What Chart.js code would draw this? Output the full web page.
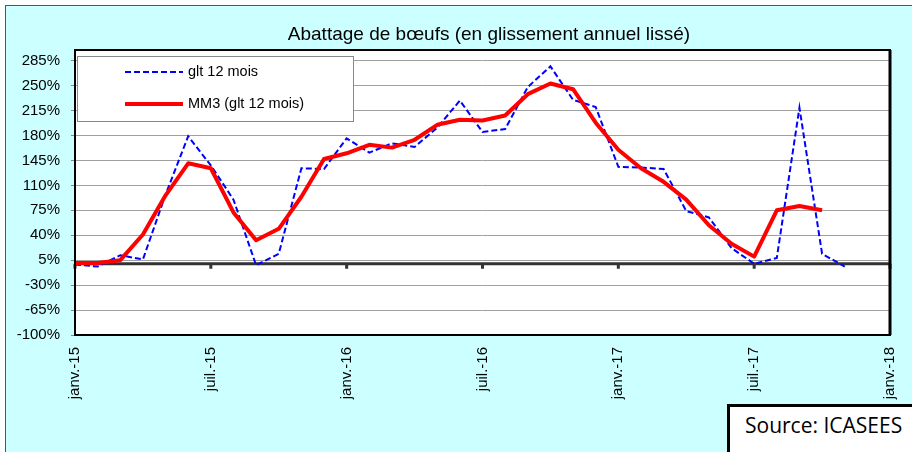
<!DOCTYPE html>
<html lang="fr">
<head>
<meta charset="utf-8">
<title>Abattage de bœufs</title>
<script src="https://cdn.jsdelivr.net/npm/chart.js@4.4.1/dist/chart.umd.min.js"></script>
<style>
  html, body { margin: 0; padding: 0; background: #fff; }
  #wrap { position: relative; width: 912px; height: 452px; overflow: hidden; }
  #bg { position: absolute; left: 5px; top: 5px; width: 920px; height: 460px; background: #ccffff;
        border-top: 1px solid #555; border-left: 1px solid #555; }
  #chart { position: absolute; left: 0; top: 0; }
  #source { position: absolute; left: 727px; top: 404px; width: 200px; height: 60px; box-sizing: border-box;
            background: #fff; border: 3px solid #000; padding: 4px 0 0 15px;
            font: 21px 'Open Sans', sans-serif; line-height: 28px; color: #000; }
</style>
</head>
<body>
<div id="wrap">
  <div id="bg"></div>
  <canvas id="chart" width="912" height="452"></canvas>
  <div id="source">Source: ICASEES</div>
</div>
<script>
// Abattage de bœufs : glissement annuel (janv.-15 -> nov.-17), mensuel
const chartTitle = 'Abattage de bœufs (en glissement annuel lissé)';
const seriesNames = ['glt 12 mois', 'MM3 (glt 12 mois)'];
const xTickLabels = ['janv.-15', 'juil.-15', 'janv.-16', 'juil.-16', 'janv.-17', 'juil.-17', 'janv.-18'];
const yTicks = [-100, -65, -30, 5, 40, 75, 110, 145, 180, 215, 250, 285];

const glt12 = [-1, -4, 12, 6, 97, 179, 138, 90, -2, 14, 134, 133,
               176, 156, 169, 164, 191, 229, 185, 189, 248, 277, 230, 220,
               136, 135, 133, 74, 65, 22, 0, 8, 219, 14, -4];
const mm3 = [1, 1, 5, 41, 96, 141, 134, 72, 33, 49, 94, 147,
             155, 167, 163, 174, 195, 202, 201, 208, 238, 253, 245, 198,
             160, 134, 115, 90, 54, 28, 10, 75, 81, 75];

const FONT = '"Liberation Sans", Arial, sans-serif';
Chart.defaults.font.family = FONT;
Chart.defaults.color = '#000';

const toPoints = arr => arr.map((v, i) => ({ x: i, y: v }));

// fond blanc, axe du zéro, cadre, légende et titre
const decor = {
  id: 'decor',
  beforeDraw(chart) {
    const { ctx, chartArea: a } = chart;
    ctx.save();
    ctx.fillStyle = '#fff';
    ctx.fillRect(a.left, a.top, a.right - a.left, a.bottom - a.top);
    ctx.restore();
  },
  beforeDatasetsDraw(chart) {
    const { ctx, chartArea: a } = chart;
    const x = chart.scales.x, y0 = chart.scales.y.getPixelForValue(0);
    ctx.save();
    ctx.strokeStyle = '#333';
    ctx.lineWidth = 3;
    ctx.beginPath(); ctx.moveTo(a.left, y0); ctx.lineTo(a.right, y0); ctx.stroke();
    ctx.fillStyle = '#333';
    x.ticks.forEach(t => {
      const px = x.getPixelForValue(t.value);
      ctx.fillRect(px - 1.5, y0, 3, 5);
    });
    ctx.restore();
  },
  afterDatasetsDraw(chart) {
    const { ctx, chartArea: a } = chart;
    ctx.save();
    ctx.strokeStyle = '#000';
    ctx.lineWidth = 2;
    ctx.strokeRect(a.left, a.top, a.right - a.left, a.bottom - a.top);
    ctx.lineWidth = 3;
    ctx.beginPath(); ctx.moveTo(a.right, a.top); ctx.lineTo(a.right, a.bottom); ctx.stroke();

    // légende
    ctx.fillStyle = '#fff';
    ctx.fillRect(77, 56, 276, 65);
    ctx.strokeStyle = '#888';
    ctx.lineWidth = 1;
    ctx.strokeRect(77.5, 56.5, 276, 65);
    chart.data.datasets.forEach((ds, i) => {
      const ly = i === 0 ? 72 : 104;
      ctx.strokeStyle = ds.borderColor;
      ctx.lineWidth = ds.borderWidth;
      ctx.setLineDash(ds.borderDash || []);
      ctx.beginPath(); ctx.moveTo(125, ly); ctx.lineTo(183, ly); ctx.stroke();
      ctx.setLineDash([]);
      ctx.fillStyle = '#000';
      ctx.font = '14.5px ' + FONT;
      ctx.textBaseline = 'middle';
      ctx.textAlign = 'left';
      ctx.fillText(ds.label, 188, ly);
    });

    // titre
    ctx.font = '19px ' + FONT;
    ctx.textAlign = 'center';
    ctx.textBaseline = 'alphabetic';
    ctx.fillStyle = '#000';
    ctx.fillText(chartTitle, 489, 40);
    ctx.restore();
  }
};

new Chart(document.getElementById('chart'), {
  type: 'line',
  data: {
    datasets: [
      {
        label: seriesNames[0],
        data: toPoints(glt12),
        borderColor: '#0000ff',
        borderWidth: 2,
        borderDash: [6, 3],
        pointRadius: 0,
        tension: 0,
        order: 2,
      },
      {
        label: seriesNames[1],
        data: toPoints(mm3),
        borderColor: '#ff0000',
        borderWidth: 4,
        borderJoinStyle: 'round',
        pointRadius: 0,
        tension: 0,
        order: 1,
      }
    ]
  },
  options: {
    responsive: false,
    animation: false,
    layout: { padding: { left: 0, right: 22, top: 50, bottom: 0 } },
    plugins: { legend: { display: false }, tooltip: { enabled: false }, title: { display: false } },
    scales: {
      x: {
        type: 'linear',
        min: 0, max: 36,
        afterBuildTicks: s => { s.ticks = xTickLabels.map((_, i) => ({ value: i * 6 })); },
        afterFit: s => { s.height = 117; s.paddingLeft = 0; s.paddingRight = 0; },
        grid: { display: false, drawTicks: false },
        border: { display: false },
        ticks: {
          autoSkip: false, minRotation: 90, maxRotation: 90, padding: 12,
          font: { size: 15 },
          callback: (v, i) => xTickLabels[i],
        },
      },
      y: {
        min: -100, max: 300,
        afterBuildTicks: s => { s.ticks = yTicks.map(v => ({ value: v })); },
        afterFit: s => { s.width = 75; s.paddingTop = 0; s.paddingBottom = 0; },
        grid: { color: '#a0a0a0', lineWidth: 1, tickLength: 4, tickColor: '#888' },
        border: { display: false },
        ticks: { padding: 11, font: { size: 15 }, callback: v => v + '%' },
      }
    }
  },
  plugins: [decor]
});
</script>
</body>
</html>
